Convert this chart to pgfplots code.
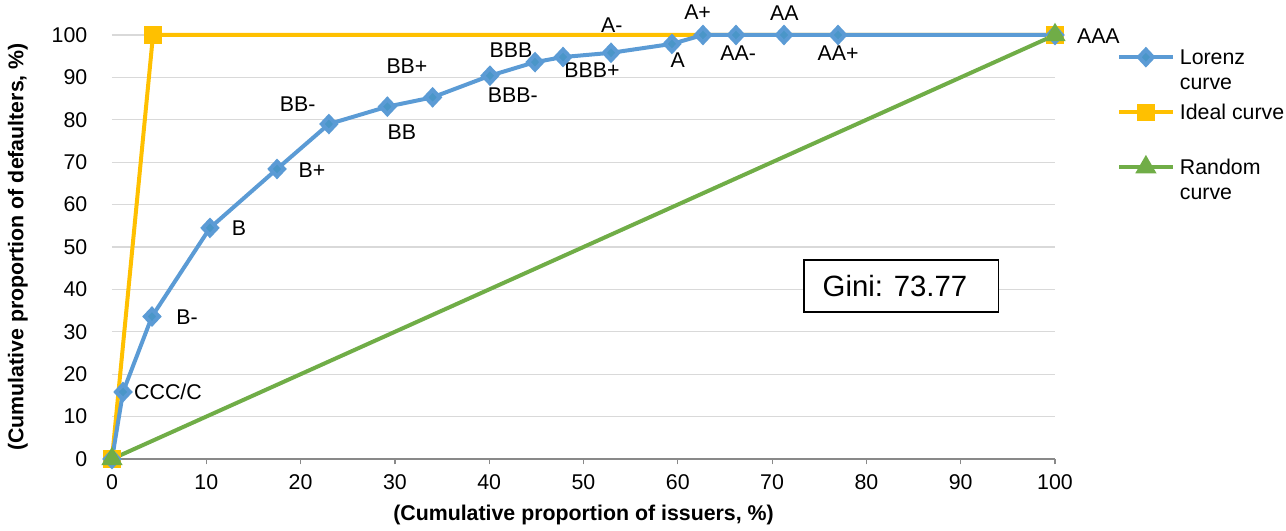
\documentclass[border=0pt]{standalone}
\usepackage{fontspec}
\setmainfont{Liberation Sans}
\usepackage{pgfplots}
\pgfplotsset{compat=1.18}
\definecolor{lblue}{HTML}{5B9BD5}
\definecolor{lblueM}{HTML}{4A96C8}
\definecolor{gold}{HTML}{FFC000}
\definecolor{lgreen}{HTML}{70AD47}
\definecolor{gridgray}{HTML}{D9D9D9}
\definecolor{axgray}{HTML}{898989}
\pgfplotsset{
  lorenzst/.style={lblue, line width=3pt, mark=diamond*, mark size=5.6pt, mark options={solid, fill=lblueM, draw=none, xscale=1.25}},
  idealst/.style={gold, line width=3pt, mark=square*, mark size=5pt, mark options={solid, fill=gold, draw=none}},
  randomst/.style={lgreen, line width=3pt, mark=triangle*, mark size=6.2pt, mark options={solid, fill=lgreen, draw=none}},
}
\begin{document}
\fontsize{16}{18.75}\selectfont
\begin{tikzpicture}
\useasboundingbox (-84pt,-54pt) rectangle (880.5pt,344.25pt);
\begin{axis}[
  at={(0,0)}, anchor=origin,
  width=707.25pt, height=318pt, scale only axis,
  xmin=0, xmax=100, ymin=0, ymax=100,
  xtick={0,10,...,100}, ytick={0,10,...,100},
  axis x line*=bottom, axis y line*=left,
  x axis line style={axgray, line width=0.9pt, -},
  y axis line style={draw=none},
  xtick style={axgray, line width=0.9pt},
  ytick style={draw=none},
  tick align=outside, major tick length=4pt,
  ymajorgrids, grid style={gridgray, line width=0.9pt},
  clip=false,
  /pgf/number format/assume math mode=true,
  ticklabel style={font=\fontsize{16}{18}\selectfont},
  xticklabel style={yshift=-2pt},
  yticklabel style={xshift=-9pt},
  xlabel={(Cumulative proportion of issuers, \%)},
  ylabel={(Cumulative proportion of defaulters, \%)},
  label style={font=\bfseries\fontsize{16}{18}\selectfont},
  xlabel style={at={(axis description cs:0.5,-0.132)}, anchor=center},
  ylabel style={at={(axis description cs:-0.0997,0.5)}, anchor=center},
  legend style={at={(1.066,0.972)}, anchor=north west, draw=none, fill=none,
    inner sep=0pt, outer sep=0pt, row sep=3.75pt, column sep=4pt,
    font=\fontsize{16}{18.75}\selectfont,
    cells={anchor=base west},
    nodes={inner sep=0pt, text depth={}}},
  legend image code/.code={\draw[mark repeat=2,mark phase=2,#1] plot coordinates {(0pt,5.4pt) (20pt,5.4pt) (40pt,5.4pt)};},
]
\addplot[idealst, forget plot] coordinates {(0,0) (4.35,100) (100,100)};
\addplot[lorenzst, forget plot] coordinates {
(0,0) (1.17,15.8) (4.24,33.6) (10.39,54.5) (17.5,68.4) (23.0,79.0) (29.2,83.1)
(34.0,85.3) (40.08,90.4) (44.86,93.6) (47.83,94.8) (52.92,95.8) (59.38,97.9)
(62.67,100) (66.17,100) (71.26,100) (76.99,100) (100,100)};
\addplot[randomst, forget plot] coordinates {(0,0) (100,100)};
\addlegendimage{lorenzst}
\addlegendentry{\begin{tabular}[t]{@{}l@{}}Lorenz\\curve\end{tabular}}
\addlegendimage{idealst}
\addlegendentry{\begin{tabular}[t]{@{}l@{}}Ideal curve\\\mbox{}\end{tabular}}
\addlegendimage{randomst}
\addlegendentry{\begin{tabular}[t]{@{}l@{}}Random\\curve\end{tabular}}
\node at (axis cs:5.94,15.8) {CCC/C};
\node at (axis cs:7.95,33.5) {B-};
\node at (axis cs:13.47,54.5) {B};
\node at (axis cs:21.2,68.2) {B+};
\node at (axis cs:19.7,83.7) {BB-};
\node at (axis cs:30.75,77.1) {BB};
\node at (axis cs:31.28,92.7) {BB+};
\node at (axis cs:42.5,85.8) {BBB-};
\node at (axis cs:42.3,96.5) {BBB};
\node at (axis cs:50.9,91.7) {BBB+};
\node at (axis cs:53.0,102.4) {A-};
\node at (axis cs:60.0,94.1) {A};
\node at (axis cs:62.1,105.4) {A+};
\node at (axis cs:66.4,95.75) {AA-};
\node at (axis cs:71.3,105.2) {AA};
\node at (axis cs:77.0,95.75) {AA+};
\node at (axis cs:104.6,99.8) {AAA};
\node[draw, line width=1.1pt, minimum width=146pt, minimum height=39pt, fill=white] at (axis cs:83.7,40.8) {};
\node[font=\fontsize{22}{26}\selectfont] at (axis cs:83.03,40.8) {Gini: 73.77};
\end{axis}
\end{tikzpicture}
\end{document}
